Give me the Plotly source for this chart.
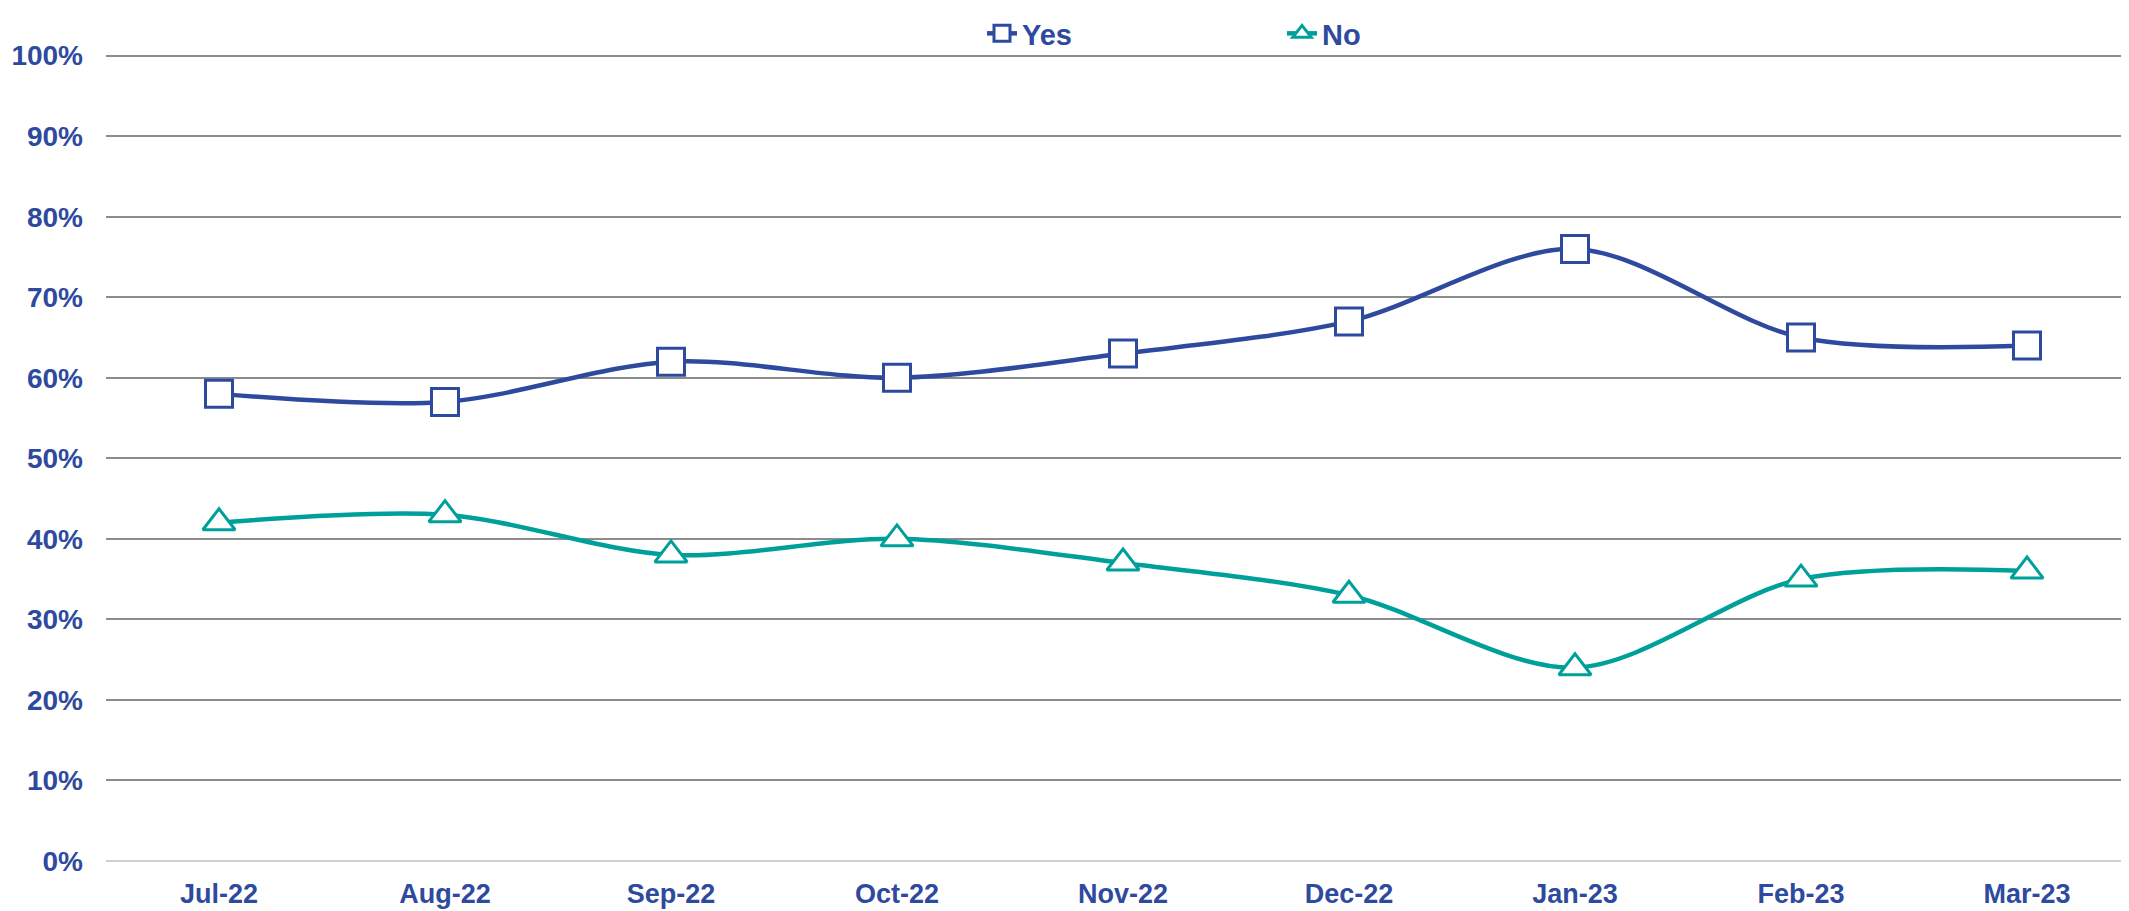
import plotly.graph_objects as go

categories = ["Jul-22", "Aug-22", "Sep-22", "Oct-22", "Nov-22", "Dec-22", "Jan-23", "Feb-23", "Mar-23"]
yes_values = [0.58, 0.57, 0.62, 0.60, 0.63, 0.67, 0.76, 0.65, 0.64]
no_values = [0.42, 0.43, 0.38, 0.40, 0.37, 0.33, 0.24, 0.35, 0.36]
y_ticks = [0, 0.1, 0.2, 0.3, 0.4, 0.5, 0.6, 0.7, 0.8, 0.9, 1.0]
y_tick_labels = ["0%", "10%", "20%", "30%", "40%", "50%", "60%", "70%", "80%", "90%", "100%"]

BLUE = "#2E4A9E"
TEAL = "#00A09A"
FONT = "Liberation Sans, Arial, sans-serif"

# page body has an 8px default margin
OFF = 8
W, H = 2129 - OFF, 911 - OFF
L, R, T = 106 - OFF, 0, 54 - OFF
B = H - (861 - OFF)
plot_w = W - L - R
cat_px = 226
x_max = -0.5 + plot_w / cat_px

fig = go.Figure()
fig.add_trace(go.Scatter(
    x=list(range(len(categories))), y=yes_values, name="Yes",
    mode="lines+markers",
    line=dict(color=BLUE, width=4.5, shape="spline", smoothing=0.9),
    marker=dict(symbol="square", size=27, color="white", line=dict(color=BLUE, width=3)),
    cliponaxis=False,
))
fig.add_trace(go.Scatter(
    x=list(range(len(categories))), y=no_values, name="No",
    mode="lines+markers",
    line=dict(color=TEAL, width=4.5, shape="spline", smoothing=0.9),
    marker=dict(symbol="triangle-up", size=28, color="white", line=dict(color=TEAL, width=3)),
    cliponaxis=False,
))

fig.update_layout(
    width=W, height=H,
    margin=dict(l=L, r=R, t=T, b=B, pad=0, autoexpand=False),
    paper_bgcolor="white", plot_bgcolor="white",
    font=dict(family=FONT, color=BLUE, size=28),
    showlegend=True,
    legend=dict(
        orientation="h", xref="container", yref="container",
        x=(982 - OFF) / W, xanchor="left", y=1.0, yanchor="top",
        font=dict(family=FONT, size=29, color=BLUE, weight="bold"),
        entrywidth=255, entrywidthmode="pixels",
        bgcolor="rgba(0,0,0,0)", borderwidth=0,
    ),
    xaxis=dict(
        range=[-0.5, x_max], automargin=False,
        tickmode="array", tickvals=list(range(len(categories))), ticktext=categories,
        showgrid=False, zeroline=False, showline=False,
        ticks="", ticklabelstandoff=14,
        tickfont=dict(family=FONT, size=27, color=BLUE, weight="bold"),
        fixedrange=True,
    ),
    yaxis=dict(
        range=[0, 1.002], automargin=False,
        tickmode="array", tickvals=y_ticks, ticktext=y_tick_labels,
        showgrid=True, gridcolor="#8C8C8C", gridwidth=2,
        zeroline=True, zerolinecolor="#D0D0D0", zerolinewidth=2,
        showline=False, ticks="", ticklabelstandoff=22,
        tickfont=dict(family=FONT, size=28, color=BLUE, weight="bold"),
        fixedrange=True,
    ),
)

fig.write_html("out.html")
